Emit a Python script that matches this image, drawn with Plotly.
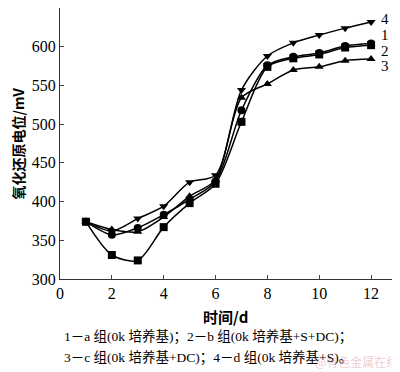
import plotly.graph_objects as go

days = [1, 2, 3, 4, 5, 6, 7, 8, 9, 10, 11, 12]
s1 = [374, 357, 366, 383, 403, 426, 518, 576, 587, 592, 601, 604]
s2 = [374, 331, 324, 367, 398, 423, 503, 574, 585, 590, 599, 602]
s3 = [374, 364, 361, 380, 407, 428, 534, 552, 570, 574, 582, 584]
s4 = [374, 362, 378, 394, 425, 434, 544, 588, 605, 615, 624, 632]

series = [("1", s1, "circle"), ("2", s2, "square"), ("3", s3, "triangle-up"), ("4", s4, "triangle-down")]
end_labels = [("4", 636), ("1", 615), ("2", 595), ("3", 575)]

x_ticks = [0, 2, 4, 6, 8, 10, 12]
y_ticks = [300, 350, 400, 450, 500, 550, 600, 650]

fig = go.Figure()
for name, vals, sym in series:
    fig.add_trace(go.Scatter(
        x=days, y=vals, mode="lines+markers", name=name,
        line=dict(color="black", width=1.5, shape="spline", smoothing=0.8),
        marker=dict(symbol=sym, size=8, color="black"),
        showlegend=False,
    ))

for lab, yv in end_labels:
    fig.add_annotation(x=12.55, y=yv, text=lab, showarrow=False, borderpad=0,
                       font=dict(family="Liberation Serif", size=15, color="black"),
                       xanchor="center", yanchor="middle")

fig.add_annotation(xref="paper", yref="paper", x=-0.125, y=0.5, text="<b>氧化还原电位/mV</b>",
                   textangle=-90, showarrow=False, borderpad=0,
                   font=dict(family="Noto Sans CJK SC, Liberation Serif", size=14, color="black"),
                   xanchor="center", yanchor="middle")
fig.add_annotation(xref="paper", yref="paper", x=0.49, y=-0.137, text="<b>时间/d</b>",
                   showarrow=False, font=dict(family="Noto Sans CJK SC, Liberation Serif", size=15, color="black"),
                   xanchor="center", yanchor="middle")
fig.add_annotation(xref="paper", x=0.006, yref="paper", y=-0.214,
                   text="1－a 组(0k 培养基)；2－b 组(0k 培养基+S+DC)；",
                   showarrow=False, font=dict(family="Liberation Serif, Noto Sans CJK SC", size=13.5, color="black"),
                   xanchor="left", yanchor="middle")
fig.add_annotation(xref="paper", x=0.006, yref="paper", y=-0.288,
                   text="3－c 组(0k 培养基+DC)；4－d 组(0k 培养基+S)。",
                   showarrow=False, font=dict(family="Liberation Serif, Noto Sans CJK SC", size=13.5, color="black"),
                   xanchor="left", yanchor="middle")
fig.add_annotation(xref="paper", x=1.009, yref="paper", y=-0.305,
                   text="@有色金属在线",
                   showarrow=False, font=dict(family="Noto Sans CJK SC", size=12, color="rgba(220,120,130,0.4)"),
                   xanchor="right", yanchor="middle")

fig.update_layout(
    width=392, height=364,
    margin=dict(l=52, r=3, t=0, b=93, autoexpand=False),
    paper_bgcolor="white", plot_bgcolor="white",
    font=dict(family="Liberation Serif", color="black"),
)
fig.update_xaxes(range=[0, 13], tickvals=x_ticks, ticks="inside", ticklen=4, automargin=False,
                 showline=True, mirror=True, linecolor="#333", linewidth=1.2,
                 showgrid=False, zeroline=False, tickfont=dict(size=16, family="Liberation Serif"))
fig.update_yaxes(range=[300, 650], tickvals=y_ticks, ticks="inside", ticklen=4, automargin=False,
                 showline=True, mirror=True, linecolor="#333", linewidth=1.2,
                 showgrid=False, zeroline=False, tickfont=dict(size=16, family="Liberation Serif"))

fig.write_html("out.html")
